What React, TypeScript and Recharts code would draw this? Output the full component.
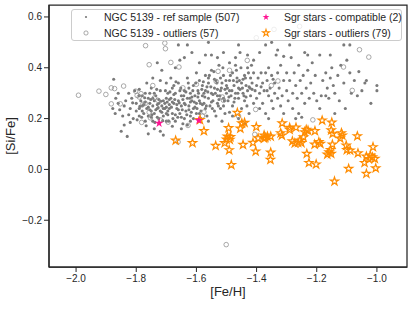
import React from 'react';
import {
  ScatterChart,
  Scatter,
  XAxis,
  YAxis,
  ReferenceArea,
  Label,
} from 'recharts';

// [Fe/H], [Si/Fe] pairs
const refSample: Array<[number, number]> = [
  [-1.875, 0.355], [-1.87, 0.22], [-1.86, 0.26], [-1.85, 0.15], [-1.84, 0.25], [-1.835, 0.27], [-1.83, 0.13],
  [-1.825, 0.3], [-1.82, 0.24], [-1.815, 0.28], [-1.81, 0.2], [-1.805, 0.31], [-1.8, 0.26], [-1.8, 0.23],
  [-1.86, 0.3], [-1.845, 0.21], [-1.82, 0.185], [-1.79, 0.29], [-1.79, 0.24], [-1.79, 0.21],
  [-1.785, 0.27], [-1.78, 0.25], [-1.775, 0.22], [-1.77, 0.3], [-1.77, 0.19], [-1.765, 0.24], [-1.76, 0.28],
  [-1.76, 0.21], [-1.755, 0.26], [-1.75, 0.23], [-1.75, 0.32], [-1.745, 0.25], [-1.745, 0.19], [-1.74, 0.27],
  [-1.74, 0.22], [-1.735, 0.29], [-1.73, 0.24], [-1.73, 0.205], [-1.725, 0.26], [-1.72, 0.23], [-1.72, 0.31],
  [-1.715, 0.25], [-1.71, 0.27], [-1.71, 0.21], [-1.705, 0.24], [-1.7, 0.28], [-1.7, 0.22], [-1.7, 0.19],
  [-1.76, 0.14], [-1.74, 0.16], [-1.72, 0.15], [-1.71, 0.135], [-1.78, 0.29], [-1.765, 0.34], [-1.745, 0.36],
  [-1.72, 0.35], [-1.73, 0.42], [-1.715, 0.39], [-1.755, 0.3], [-1.725, 0.2], [-1.69, 0.255], [-1.695, 0.3],
  [-1.79, 0.315], [-1.775, 0.255], [-1.735, 0.235], [-1.705, 0.26], [-1.745, 0.28], [-1.76, 0.245],
  [-1.78, 0.23], [-1.715, 0.225], [-1.725, 0.275], [-1.74, 0.3], [-1.75, 0.205], [-1.7, 0.245],
  [-1.77, 0.265], [-1.755, 0.235], [-1.73, 0.255], [-1.71, 0.24], [-1.695, 0.215],
  [-1.69, 0.24], [-1.685, 0.28], [-1.68, 0.22], [-1.68, 0.32], [-1.675, 0.26], [-1.67, 0.19], [-1.67, 0.3],
  [-1.665, 0.24], [-1.66, 0.27], [-1.66, 0.34], [-1.655, 0.22], [-1.65, 0.29], [-1.65, 0.25], [-1.645, 0.18],
  [-1.64, 0.31], [-1.64, 0.26], [-1.635, 0.23], [-1.63, 0.28], [-1.63, 0.36], [-1.625, 0.25], [-1.62, 0.21],
  [-1.62, 0.3], [-1.615, 0.27], [-1.61, 0.24], [-1.61, 0.33], [-1.605, 0.29], [-1.6, 0.26], [-1.6, 0.22],
  [-1.6, 0.38], [-1.685, 0.36], [-1.67, 0.4], [-1.655, 0.43], [-1.64, 0.44], [-1.66, 0.49], [-1.63, 0.49],
  [-1.615, 0.46], [-1.68, 0.17], [-1.65, 0.16], [-1.63, 0.175], [-1.62, 0.19], [-1.69, 0.275], [-1.675, 0.295],
  [-1.665, 0.255], [-1.645, 0.275], [-1.635, 0.305], [-1.625, 0.235], [-1.615, 0.285], [-1.605, 0.245],
  [-1.695, 0.23], [-1.67, 0.215], [-1.655, 0.31], [-1.64, 0.2], [-1.625, 0.32], [-1.61, 0.2], [-1.68, 0.265],
  [-1.66, 0.235], [-1.65, 0.205], [-1.62, 0.265], [-1.7, 0.34], [-1.675, 0.33],
  [-1.595, 0.31], [-1.59, 0.27], [-1.59, 0.35], [-1.585, 0.23], [-1.58, 0.29], [-1.58, 0.33], [-1.575, 0.26],
  [-1.57, 0.31], [-1.57, 0.37], [-1.565, 0.21], [-1.56, 0.28], [-1.56, 0.34], [-1.555, 0.25], [-1.55, 0.3],
  [-1.55, 0.39], [-1.545, 0.27], [-1.54, 0.32], [-1.54, 0.23], [-1.535, 0.35], [-1.53, 0.29], [-1.53, 0.26],
  [-1.525, 0.41], [-1.52, 0.31], [-1.52, 0.24], [-1.515, 0.34], [-1.51, 0.28], [-1.51, 0.37], [-1.505, 0.22],
  [-1.5, 0.3], [-1.5, 0.33], [-1.59, 0.42], [-1.57, 0.45], [-1.55, 0.45], [-1.53, 0.44], [-1.56, 0.5],
  [-1.51, 0.46], [-1.585, 0.2], [-1.56, 0.19], [-1.535, 0.21], [-1.515, 0.19], [-1.595, 0.285], [-1.575, 0.3],
  [-1.565, 0.325], [-1.545, 0.295], [-1.525, 0.275], [-1.505, 0.315], [-1.58, 0.255], [-1.55, 0.265],
  [-1.54, 0.355], [-1.52, 0.36], [-1.59, 0.22], [-1.57, 0.24], [-1.53, 0.315], [-1.51, 0.25], [-1.56, 0.36],
  [-1.495, 0.27], [-1.49, 0.35], [-1.49, 0.31], [-1.485, 0.29], [-1.48, 0.38], [-1.48, 0.25], [-1.475, 0.33],
  [-1.47, 0.3], [-1.47, 0.41], [-1.465, 0.36], [-1.46, 0.28], [-1.46, 0.32], [-1.455, 0.46], [-1.45, 0.34],
  [-1.45, 0.24], [-1.445, 0.3], [-1.44, 0.37], [-1.44, 0.27], [-1.435, 0.33], [-1.43, 0.31], [-1.43, 0.4],
  [-1.425, 0.22], [-1.42, 0.36], [-1.42, 0.29], [-1.415, 0.34], [-1.41, 0.26], [-1.41, 0.38], [-1.405, 0.31],
  [-1.4, 0.33], [-1.4, 0.28], [-1.49, 0.42], [-1.47, 0.44], [-1.46, 0.49], [-1.43, 0.45], [-1.41, 0.43],
  [-1.44, 0.18], [-1.48, 0.21], [-1.46, 0.2], [-1.49, 0.225], [-1.475, 0.265], [-1.455, 0.315],
  [-1.435, 0.285], [-1.415, 0.315], [-1.465, 0.345], [-1.445, 0.355], [-1.425, 0.325],
  [-1.395, 0.36], [-1.39, 0.3], [-1.385, 0.38], [-1.38, 0.34], [-1.38, 0.26], [-1.375, 0.31], [-1.37, 0.38],
  [-1.37, 0.22], [-1.365, 0.35], [-1.36, 0.29], [-1.36, 0.4], [-1.355, 0.32], [-1.35, 0.37], [-1.35, 0.27],
  [-1.345, 0.24], [-1.34, 0.34], [-1.34, 0.3], [-1.335, 0.45], [-1.33, 0.28], [-1.33, 0.38], [-1.325, 0.32],
  [-1.32, 0.25], [-1.32, 0.41], [-1.315, 0.29], [-1.31, 0.35], [-1.31, 0.22], [-1.3, 0.31], [-1.3, 0.38],
  [-1.39, 0.46], [-1.37, 0.49], [-1.35, 0.5], [-1.33, 0.47], [-1.36, 0.2], [-1.39, 0.24], [-1.31, 0.445],
  [-1.385, 0.325], [-1.365, 0.31], [-1.345, 0.355],
  [-1.295, 0.27], [-1.29, 0.35], [-1.285, 0.44], [-1.28, 0.3], [-1.28, 0.24], [-1.275, 0.38], [-1.27, 0.33],
  [-1.265, 0.28], [-1.26, 0.41], [-1.26, 0.22], [-1.255, 0.35], [-1.25, 0.3], [-1.245, 0.37], [-1.24, 0.26],
  [-1.24, 0.46], [-1.235, 0.32], [-1.23, 0.39], [-1.225, 0.28], [-1.22, 0.34], [-1.21, 0.3], [-1.205, 0.37],
  [-1.2, 0.27], [-1.29, 0.49], [-1.23, 0.45], [-1.215, 0.42], [-1.27, 0.2], [-1.25, 0.205],
  [-1.19, 0.45], [-1.185, 0.29], [-1.18, 0.35], [-1.17, 0.38], [-1.165, 0.32], [-1.16, 0.28], [-1.155, 0.36],
  [-1.15, 0.4], [-1.145, 0.33], [-1.14, 0.3], [-1.13, 0.37], [-1.125, 0.27], [-1.12, 0.41], [-1.11, 0.34],
  [-1.105, 0.24], [-1.1, 0.43], [-1.09, 0.38], [-1.085, 0.3], [-1.075, 0.35], [-1.065, 0.29], [-1.05, 0.31],
  [-1.04, 0.34], [-1.035, 0.35], [-1.02, 0.26], [-1.0, 0.33], [-1.0, 0.31], [-1.11, 0.49], [-1.09, 0.49],
  [-1.155, 0.45], [-1.19, 0.24], [-1.14, 0.22], [-1.17, 0.29], [-1.06, 0.385],
  // extra density in the metal-poor clump
  [-1.825, 0.215], [-1.812, 0.262], [-1.797, 0.195], [-1.788, 0.248], [-1.782, 0.205], [-1.772, 0.282],
  [-1.767, 0.172], [-1.752, 0.275], [-1.748, 0.215], [-1.738, 0.185], [-1.732, 0.315], [-1.727, 0.243],
  [-1.718, 0.268], [-1.712, 0.192], [-1.703, 0.31], [-1.697, 0.265], [-1.692, 0.19], [-1.688, 0.305],
  [-1.683, 0.245], [-1.678, 0.2], [-1.672, 0.275], [-1.668, 0.345], [-1.662, 0.205], [-1.657, 0.262],
  [-1.652, 0.32], [-1.647, 0.235], [-1.642, 0.29], [-1.637, 0.255], [-1.632, 0.215], [-1.627, 0.34],
  [-1.622, 0.28], [-1.617, 0.225], [-1.612, 0.31], [-1.607, 0.265], [-1.602, 0.34], [-1.598, 0.24],
  [-1.593, 0.3], [-1.587, 0.26], [-1.582, 0.315], [-1.577, 0.345], [-1.572, 0.285], [-1.567, 0.25],
  [-1.562, 0.305], [-1.557, 0.37], [-1.552, 0.325], [-1.547, 0.24], [-1.542, 0.385], [-1.537, 0.3],
  [-1.532, 0.34], [-1.527, 0.25], [-1.522, 0.29], [-1.517, 0.32], [-1.512, 0.4], [-1.507, 0.27],
  [-1.502, 0.35], [-1.497, 0.32], [-1.492, 0.285], [-1.487, 0.37], [-1.482, 0.31], [-1.477, 0.35],
  [-1.472, 0.28], [-1.467, 0.39], [-1.462, 0.3], [-1.457, 0.35], [-1.452, 0.4], [-1.447, 0.32],
  [-1.442, 0.29], [-1.437, 0.36], [-1.432, 0.25], [-1.427, 0.38], [-1.422, 0.32], [-1.417, 0.41],
  [-1.855, 0.235], [-1.868, 0.28], [-1.878, 0.24], [-1.84, 0.175],
];

const refOutliers: Array<[number, number]> = [
  [-1.992, 0.292], [-1.924, 0.308], [-1.901, 0.295], [-1.883, 0.321], [-1.872, 0.318], [-1.842, 0.328],
  [-1.883, 0.258], [-1.853, 0.258], [-1.802, 0.308], [-1.797, 0.291], [-1.784, 0.298], [-1.79, 0.285],
  [-1.778, 0.256], [-1.782, 0.185], [-1.769, 0.487], [-1.757, 0.412], [-1.753, 0.203], [-1.757, 0.225],
  [-1.739, 0.282], [-1.728, 0.272], [-1.705, 0.497], [-1.703, 0.475], [-1.685, 0.421], [-1.694, 0.186],
  [-1.658, 0.403], [-1.661, 0.108], [-1.645, 0.321], [-1.628, 0.173], [-1.575, 0.226], [-1.534, 0.346],
  [-1.528, 0.386], [-1.514, 0.285], [-1.51, 0.272], [-1.501, -0.296], [-1.406, 0.138], [-1.431, 0.429],
  [-1.403, 0.236], [-1.401, 0.518], [-1.342, 0.551], [-1.329, 0.348], [-1.351, 0.33], [-1.257, 0.563],
  [-1.213, 0.195], [-1.111, 0.403], [-1.082, 0.311], [-1.058, 0.471], [-1.027, 0.442], [-1.745, 0.33],
  [-1.77, 0.26], [-1.72, 0.195], [-1.58, 0.21], [-1.49, 0.39], [-1.6, 0.335], [-1.46, 0.21],
];

const sgrCompatible: Array<[number, number]> = [
  [-1.724, 0.182], [-1.592, 0.193],
];

const sgrOutliers: Array<[number, number]> = [
  [-1.669, 0.114], [-1.613, 0.104], [-1.575, 0.151], [-1.588, 0.195], [-1.536, 0.093], [-1.506, 0.104],
  [-1.493, 0.163], [-1.497, 0.13], [-1.489, 0.117], [-1.5, 0.118], [-1.487, 0.128], [-1.491, 0.076],
  [-1.484, 0.018], [-1.464, 0.223], [-1.454, 0.161], [-1.449, 0.182], [-1.44, 0.184], [-1.445, 0.097],
  [-1.412, 0.105], [-1.401, 0.167], [-1.403, 0.071], [-1.395, 0.123], [-1.375, 0.134], [-1.371, 0.125],
  [-1.364, 0.13], [-1.375, 0.122], [-1.353, 0.13], [-1.353, 0.067], [-1.354, 0.038], [-1.315, 0.182],
  [-1.32, 0.143], [-1.316, 0.134], [-1.29, 0.164], [-1.29, 0.156], [-1.269, 0.165], [-1.281, 0.111],
  [-1.273, 0.103], [-1.262, 0.105], [-1.251, 0.104], [-1.256, 0.114], [-1.244, 0.127], [-1.24, 0.147],
  [-1.235, 0.156], [-1.229, 0.153], [-1.233, 0.062], [-1.226, 0.026], [-1.206, 0.151], [-1.207, 0.098],
  [-1.202, 0.02], [-1.193, 0.108], [-1.188, 0.101], [-1.182, 0.193], [-1.15, 0.185], [-1.152, 0.154],
  [-1.147, 0.141], [-1.148, 0.098], [-1.165, 0.059], [-1.159, 0.068], [-1.154, 0.077], [-1.152, 0.062],
  [-1.141, -0.047], [-1.118, 0.143], [-1.115, 0.134], [-1.122, 0.122], [-1.102, 0.094], [-1.1, 0.077],
  [-1.089, 0.075], [-1.094, 0.003], [-1.065, 0.131], [-1.063, 0.064], [-1.041, 0.026], [-1.035, 0.051],
  [-1.027, 0.041], [-1.022, 0.055], [-1.035, -0.017], [-1.013, 0.088], [-1.015, 0.048], [-1.007, 0.042],
  [-1.004, 0.005],
];

const xTicks = [-2.0, -1.8, -1.6, -1.4, -1.2, -1.0];
const yTicks = [-0.2, 0.0, 0.2, 0.4, 0.6];

const legendLabels = [
  'NGC 5139 - ref sample (507)',
  'NGC 5139 - outliers (57)',
  'Sgr stars - compatible (2)',
  'Sgr stars - outliers (79)',
];

const X_DOMAIN: [number, number] = [-2.09, -0.9];
const Y_DOMAIN: [number, number] = [-0.384, 0.647];
const INK = '#262626';
const FONT = '"Liberation Sans", Arial, sans-serif';

const toPoints = (rows: Array<[number, number]>) => rows.map(([x, y]) => ({ x, y }));

function starPath(cx: number, cy: number, R: number) {
  const r = R * 0.382;
  let d = '';
  for (let i = 0; i < 10; i++) {
    const a = -Math.PI / 2 + (i * Math.PI) / 5;
    const rad = i % 2 === 0 ? R : r;
    d += (i === 0 ? 'M' : 'L') + (cx + rad * Math.cos(a)).toFixed(2) + ',' + (cy + rad * Math.sin(a)).toFixed(2);
  }
  return d + 'Z';
}

const fmt = (v: number) => (v < 0 ? '\u2212' : '') + Math.abs(v).toFixed(1);

const GreyDot = (p: any) => <circle cx={p.cx} cy={p.cy} r={1.55} fill="#7a7a7a" />;
const OpenCircle = (p: any) => (
  <circle cx={p.cx} cy={p.cy} r={2.3} fill="none" stroke="#8c8c8c" strokeWidth={0.75} />
);
const PinkStar = (p: any) => <path d={starPath(p.cx, p.cy, 4.6)} fill="#ff1493" />;
const OrangeStar = (p: any) => (
  <path d={starPath(p.cx, p.cy, 4.3)} fill="none" stroke="#ff8c00" strokeWidth={1.2} strokeLinejoin="miter" />
);

// drawn over the plot, like matplotlib's semi-opaque legend frame
function LegendBox() {
  const markers = [
    <circle cx={7} cy={7} r={1.1} fill="#7a7a7a" />,
    <circle cx={7} cy={7} r={2.1} fill="none" stroke="#8c8c8c" strokeWidth={0.75} />,
    <path d={starPath(7, 7, 3.6)} fill="#ff1493" />,
    <path d={starPath(7, 7, 3.6)} fill="none" stroke="#ff8c00" strokeWidth={1.1} />,
  ];
  const pos = [
    { left: 14, top: 7 },
    { left: 14, top: 23 },
    { left: 194, top: 7 },
    { left: 194, top: 23 },
  ];
  return (
    <div
      style={{
        position: 'absolute',
        left: 71,
        top: 9,
        width: 331,
        height: 32,
        boxSizing: 'border-box',
        border: '1px solid #cccccc',
        borderRadius: 3,
        background: 'rgba(255,255,255,0.8)',
        fontFamily: FONT,
        fontSize: 10.5,
        color: INK,
      }}
    >
      {legendLabels.map((label, i) => (
        <React.Fragment key={label}>
          <svg
            width={14}
            height={14}
            style={{ position: 'absolute', left: pos[i].left - 7, top: pos[i].top - 7 }}
          >
            {markers[i]}
          </svg>
          <span
            style={{
              position: 'absolute',
              left: pos[i].left + 18,
              top: pos[i].top - 6,
              lineHeight: '12px',
              whiteSpace: 'nowrap',
            }}
          >
            {label}
          </span>
        </React.Fragment>
      ))}
    </div>
  );
}

export default function App() {
  const tickStyle = { fontSize: 10, fill: INK, fontFamily: FONT };
  return (
    <div style={{ position: 'absolute', left: 0, top: 0, width: 419, height: 312, background: '#fff' }}>
      <ScatterChart width={419} height={312} margin={{ top: 5, right: 12, bottom: 0, left: 0 }}>
        <XAxis
          type="number"
          dataKey="x"
          domain={X_DOMAIN}
          ticks={xTicks}
          allowDataOverflow
          tickFormatter={fmt}
          tick={tickStyle}
          tickSize={5}
          tickMargin={3}
          height={45}
          axisLine={{ stroke: INK, strokeWidth: 1.25 }}
          tickLine={{ stroke: INK, strokeWidth: 1 }}
        >
          <Label value="[Fe/H]" position="insideBottom" offset={16} style={{ fontSize: 13, fill: INK, fontFamily: FONT }} />
        </XAxis>
        <YAxis
          type="number"
          dataKey="y"
          domain={Y_DOMAIN}
          ticks={yTicks}
          allowDataOverflow
          tickFormatter={fmt}
          tick={tickStyle}
          tickSize={5}
          tickMargin={2}
          width={49}
          axisLine={{ stroke: INK, strokeWidth: 1.25 }}
          tickLine={{ stroke: INK, strokeWidth: 1 }}
        >
          <Label
            content={(props: any) => {
              const vb = props.viewBox || { y: 5, height: 262 };
              const cy = vb.y + vb.height / 2;
              return (
                <text
                  transform={`translate(14.5, ${cy}) rotate(-90)`}
                  textAnchor="middle"
                  style={{ fontSize: 13, fill: INK, fontFamily: FONT }}
                >
                  [Si/Fe]
                </text>
              );
            }}
          />
        </YAxis>
        <Scatter name={legendLabels[0]} data={toPoints(refSample)} shape={GreyDot} isAnimationActive={false} />
        <Scatter name={legendLabels[1]} data={toPoints(refOutliers)} shape={OpenCircle} isAnimationActive={false} />
        <Scatter name={legendLabels[3]} data={toPoints(sgrOutliers)} shape={OrangeStar} isAnimationActive={false} />
        <Scatter name={legendLabels[2]} data={toPoints(sgrCompatible)} shape={PinkStar} isAnimationActive={false} />
        <ReferenceArea
          x1={X_DOMAIN[0]}
          x2={X_DOMAIN[1]}
          y1={Y_DOMAIN[0]}
          y2={Y_DOMAIN[1]}
          fill="none"
          stroke={INK}
          strokeWidth={1.25}
          ifOverflow="visible"
        />
      </ScatterChart>
      <LegendBox />
    </div>
  );
}
